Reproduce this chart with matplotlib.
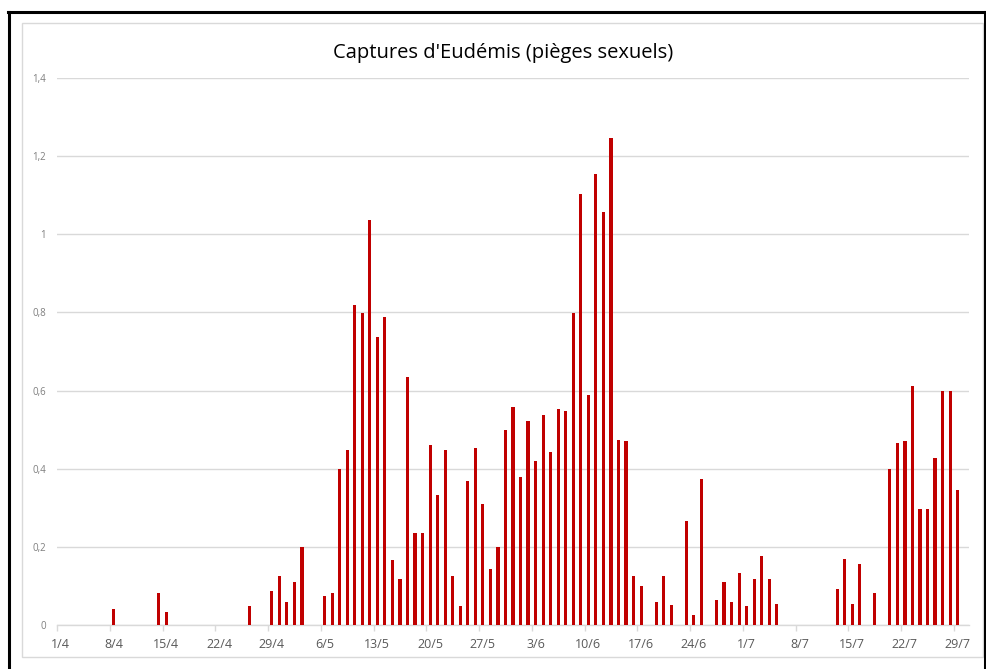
import matplotlib
matplotlib.use("Agg")
import matplotlib.pyplot as plt
import matplotlib.dates as mdates
from matplotlib.lines import Line2D
from matplotlib.patches import Rectangle
import pandas as pd
import numpy as np

YEAR = 2023
capture_dates = [
    "8/4", "14/4", "15/4", "26/4", "29/4", "30/4", "1/5", "2/5", "3/5",
    "6/5", "7/5", "8/5", "9/5", "10/5", "11/5", "12/5", "13/5", "14/5", "15/5",
    "16/5", "17/5", "18/5", "19/5", "20/5", "21/5", "22/5", "23/5", "24/5",
    "25/5", "26/5", "27/5", "28/5", "29/5", "30/5", "31/5", "1/6", "2/6",
    "3/6", "4/6", "5/6", "6/6", "7/6", "8/6", "9/6", "10/6", "11/6", "12/6",
    "13/6", "14/6", "15/6", "16/6", "17/6", "19/6", "20/6", "21/6", "23/6",
    "24/6", "25/6", "27/6", "28/6", "29/6", "30/6", "1/7", "2/7", "3/7",
    "4/7", "5/7", "13/7", "14/7", "15/7", "16/7", "18/7", "20/7", "21/7",
    "22/7", "23/7", "24/7", "25/7", "26/7", "27/7", "28/7", "29/7",
]
captures = [
    0.040, 0.083, 0.032, 0.048, 0.086, 0.126, 0.059, 0.110, 0.200,
    0.074, 0.083, 0.400, 0.448, 0.818, 0.798, 1.036, 0.737, 0.789, 0.167,
    0.117, 0.634, 0.235, 0.235, 0.460, 0.333, 0.449, 0.126, 0.048,
    0.368, 0.453, 0.309, 0.144, 0.200, 0.499, 0.558, 0.380, 0.523,
    0.420, 0.537, 0.444, 0.554, 0.548, 0.798, 1.103, 0.589, 1.154, 1.056,
    1.246, 0.474, 0.470, 0.125, 0.101, 0.059, 0.125, 0.050, 0.267,
    0.026, 0.374, 0.063, 0.110, 0.059, 0.134, 0.048, 0.117, 0.176,
    0.117, 0.055, 0.092, 0.168, 0.053, 0.155, 0.083, 0.400, 0.465,
    0.470, 0.612, 0.298, 0.298, 0.428, 0.598, 0.598, 0.346,
]
tick_labels = ["1/4", "8/4", "15/4", "22/4", "29/4", "6/5", "13/5", "20/5",
               "27/5", "3/6", "10/6", "17/6", "24/6", "1/7", "8/7", "15/7",
               "22/7", "29/7"]
y_ticks = [0, 0.2, 0.4, 0.6, 0.8, 1.0, 1.2, 1.4]
title = "Captures d'Eudémis (pièges sexuels)"

def to_date(s):
    return pd.to_datetime(f"{s}/{YEAR}", format="%d/%m/%Y")

dates = [to_date(s) for s in capture_dates]
tick_dates = [to_date(s) for s in tick_labels]
half = pd.Timedelta(hours=12)

plt.rcParams['font.family'] = ['Open Sans', 'DejaVu Sans']

W, H = 987, 669
fig = plt.figure(figsize=(W / 100, H / 100), dpi=100)
fig.patch.set_facecolor("white")

def fx(x):
    return x / W

def fy(y):
    return 1 - y / H

# outer black frame (open at bottom)
for (x0, y0, x1, y1) in [(8, 12, 986, 12), (9, 12, 9, 669), (985, 12, 985, 669)]:
    fig.add_artist(Line2D([fx(x0), fx(x1)], [fy(y0), fy(y1)], color="black",
                          lw=2.2, transform=fig.transFigure))
# chart area border
fig.add_artist(Rectangle((fx(22), fy(657)), fx(983) - fx(22), fy(23) - fy(657),
                         transform=fig.transFigure, fill=False,
                         edgecolor="#D9D9D9", lw=1))

left, right, top, bottom = 57, 969, 78, 625
ax = fig.add_axes([fx(left), fy(bottom), fx(right) - fx(left), fy(top) - fy(bottom)])

ax.bar([d + half for d in dates], captures, width=0.42, color="#C00000",
       edgecolor="none", zorder=3)

ax.set_ylim(0, 1.4)
ax.set_xlim(to_date("1/4"), to_date("31/7"))
ax.set_yticks(y_ticks)
ax.set_yticklabels([("%g" % v).replace(".", ",") for v in y_ticks],
                   fontsize=7, color="#7F7F7F")
ax.yaxis.grid(True, color="#D9D9D9", lw=1, zorder=0)
ax.tick_params(axis="y", length=0, pad=8)

ax.set_xticks(tick_dates)
ax.set_xticklabels([""] * len(tick_dates))
ax.tick_params(axis="x", which="major", length=4, color="#D9D9D9", width=1,
               direction="out")
ax.set_xticks([d + half for d in tick_dates], minor=True)
ax.set_xticklabels(tick_labels, minor=True, fontsize=9, color="#595959")
ax.tick_params(axis="x", which="minor", length=0, pad=9)

for s in ["top", "right", "left"]:
    ax.spines[s].set_visible(False)
ax.spines["bottom"].set_color("#D9D9D9")
ax.spines["bottom"].set_linewidth(1)
ax.set_facecolor("none")

fig.text(fx(503), fy(53), title, ha="center", va="center", fontsize=14.5,
         color="#000000")

fig.savefig("out.png", dpi=100, facecolor="white")
